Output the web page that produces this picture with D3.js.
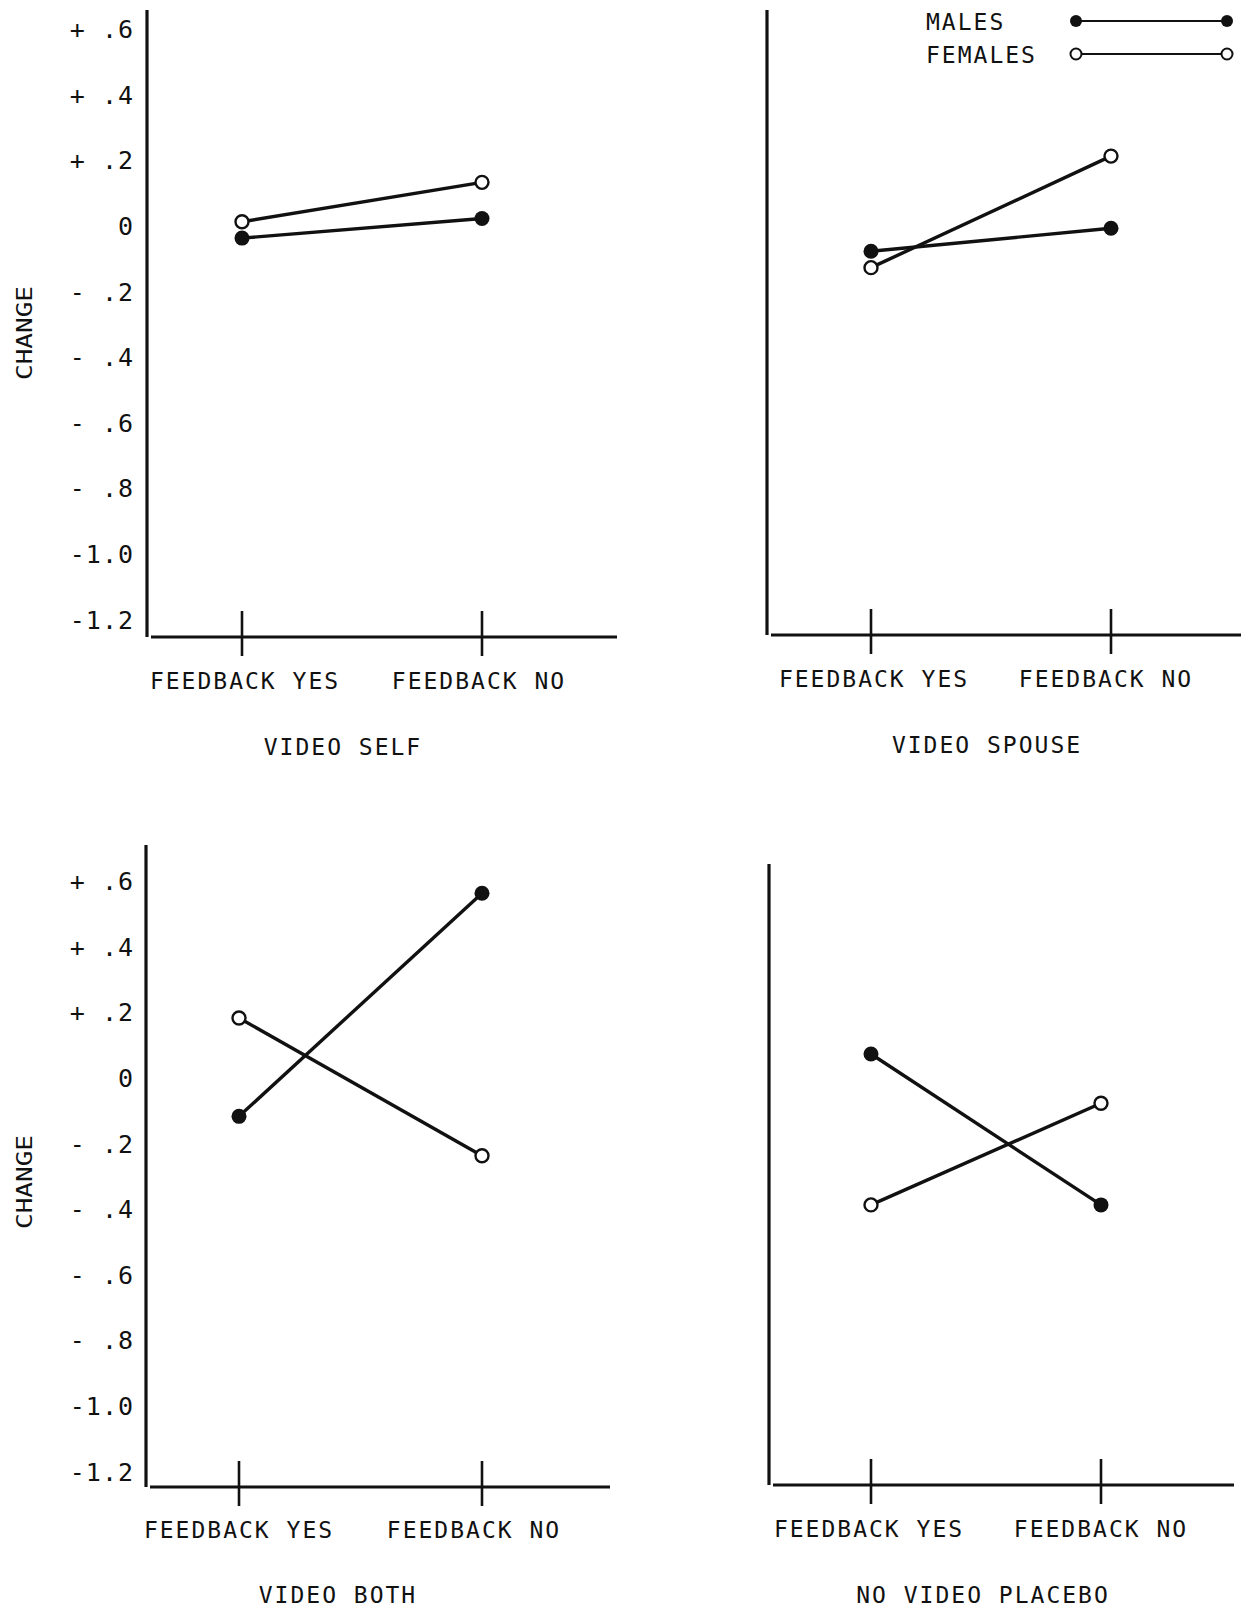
<!DOCTYPE html>
<html>
<head>
  <title>Change by Feedback and Video Condition</title>
  <script src="https://d3js.org/d3.v7.min.js"></script>
  <style>
    body { margin: 0; background: #fff; }
    text { font-family: "DejaVu Sans Mono", monospace; fill: #111; }
  </style>
</head>
<body>
  <svg id="chart" width="1251" height="1617"></svg>

  <script>
    // Data
    var categories = ["FEEDBACK YES", "FEEDBACK NO"];
    var panelTitles = ["VIDEO SELF", "VIDEO SPOUSE", "VIDEO BOTH", "NO VIDEO PLACEBO"];
    var males = [[-0.04, 0.02], [-0.08, -0.01], [-0.12, 0.56], [0.07, -0.39]];
    var females = [[0.01, 0.13], [-0.13, 0.21], [0.18, -0.24], [-0.39, -0.08]];
    var tickValues = [0.6, 0.4, 0.2, 0, -0.2, -0.4, -0.6, -0.8, -1.0, -1.2];
    var tickLabels = ["+ .6", "+ .4", "+ .2", "0", "- .2", "- .4", "- .6", "- .8", "-1.0", "-1.2"];
    var legendNames = ["MALES", "FEMALES"];

    // Panel layout (pixel positions of each hand-drawn panel)
    var panels = [
      { ax: 147, top: 10, bottom: 637, zero: 225, xEnd: 617, t1: 242, t2: 482, labY: 689, titleX: 343, titleY: 755, yesX: 245, noX: 479, showTicks: true, changeY: 333 },
      { ax: 767, top: 10, bottom: 635, zero: 225, xEnd: 1241, t1: 871, t2: 1111, labY: 687, titleX: 987, titleY: 753, yesX: 874, noX: 1106, showTicks: false },
      { ax: 146, top: 845, bottom: 1487, zero: 1077, xEnd: 610, t1: 239, t2: 482, labY: 1538, titleX: 338, titleY: 1603, yesX: 239, noX: 474, showTicks: true, changeY: 1182 },
      { ax: 769, top: 864, bottom: 1485, zero: 1077, xEnd: 1234, t1: 871, t2: 1101, labY: 1537, titleX: 983, titleY: 1603, yesX: 869, noX: 1101, showTicks: false }
    ];
    var unit = 65.6 / 0.2;

    var svg = d3.select("#chart");

    panels.forEach(function(p, i) {
      var g = svg.append("g");

      var y = d3.scaleLinear()
        .domain([0, 1])
        .range([p.zero, p.zero - unit]);

      var x = d3.scalePoint()
        .domain(categories)
        .range([p.t1, p.t2]);

      // y axis line
      g.append("line")
        .attr("x1", p.ax).attr("x2", p.ax)
        .attr("y1", p.top).attr("y2", p.bottom)
        .attr("stroke", "#111").attr("stroke-width", 3.2);

      // x axis line
      g.append("line")
        .attr("x1", p.ax + 4).attr("x2", p.xEnd)
        .attr("y1", p.bottom).attr("y2", p.bottom)
        .attr("stroke", "#111").attr("stroke-width", 2.8);

      // category ticks
      g.selectAll("line.tick")
        .data(categories)
        .enter()
        .append("line")
        .attr("class", "tick")
        .attr("x1", function(d) { return x(d); })
        .attr("x2", function(d) { return x(d); })
        .attr("y1", p.bottom - 26)
        .attr("y2", p.bottom + 19)
        .attr("stroke", "#111").attr("stroke-width", 2.6);

      // category labels
      g.append("text")
        .attr("x", p.yesX).attr("y", p.labY)
        .attr("text-anchor", "middle")
        .attr("font-size", 23).attr("letter-spacing", 2)
        .text(categories[0]);
      g.append("text")
        .attr("x", p.noX).attr("y", p.labY)
        .attr("text-anchor", "middle")
        .attr("font-size", 23).attr("letter-spacing", 2)
        .text(categories[1]);

      // panel title
      g.append("text")
        .attr("x", p.titleX).attr("y", p.titleY)
        .attr("text-anchor", "middle")
        .attr("font-size", 23).attr("letter-spacing", 2)
        .text(panelTitles[i]);

      // y tick labels and axis title
      if (p.showTicks) {
        g.selectAll("text.ylab")
          .data(tickValues)
          .enter()
          .append("text")
          .attr("class", "ylab")
          .attr("x", 134)
          .attr("y", function(d) { return y(d) + 10; })
          .attr("text-anchor", "end")
          .attr("font-size", 25).attr("letter-spacing", 1)
          .text(function(d, j) { return tickLabels[j]; });

        g.append("text")
          .attr("transform", "translate(32," + p.changeY + ") rotate(-90)")
          .attr("text-anchor", "middle")
          .attr("font-family", "DejaVu Sans Condensed")
          .attr("font-size", 21)
          .attr("textLength", 94)
          .attr("lengthAdjust", "spacingAndGlyphs")
          .text("CHANGE");
      }

      var line = d3.line()
        .x(function(d, j) { return x(categories[j]); })
        .y(function(d) { return y(d); });

      // lines
      [males[i], females[i]].forEach(function(vals) {
        g.append("path")
          .attr("d", line(vals))
          .attr("fill", "none")
          .attr("stroke", "#111")
          .attr("stroke-width", 3.4);
      });

      // male markers (filled)
      g.selectAll("circle.male")
        .data(males[i])
        .enter()
        .append("circle")
        .attr("class", "male")
        .attr("cx", function(d, j) { return x(categories[j]); })
        .attr("cy", function(d) { return y(d); })
        .attr("r", 7.5)
        .attr("fill", "#111");

      // female markers (open)
      g.selectAll("circle.female")
        .data(females[i])
        .enter()
        .append("circle")
        .attr("class", "female")
        .attr("cx", function(d, j) { return x(categories[j]); })
        .attr("cy", function(d) { return y(d); })
        .attr("r", 6.5)
        .attr("fill", "#fff")
        .attr("stroke", "#111")
        .attr("stroke-width", 2.4);
    });

    // Legend
    var legend = svg.append("g");
    var legendY = [21, 54];
    legendNames.forEach(function(name, k) {
      legend.append("text")
        .attr("x", 926).attr("y", legendY[k] + 9)
        .attr("font-size", 23).attr("letter-spacing", 2)
        .text(name);
      legend.append("line")
        .attr("x1", 1076).attr("x2", 1227)
        .attr("y1", legendY[k]).attr("y2", legendY[k])
        .attr("stroke", "#111").attr("stroke-width", 2);
      [1076, 1227].forEach(function(cx) {
        legend.append("circle")
          .attr("cx", cx).attr("cy", legendY[k])
          .attr("r", k === 0 ? 6 : 5.5)
          .attr("fill", k === 0 ? "#111" : "#fff")
          .attr("stroke", "#111")
          .attr("stroke-width", k === 0 ? 0 : 2);
      });
    });
  </script>
</body>
</html>
